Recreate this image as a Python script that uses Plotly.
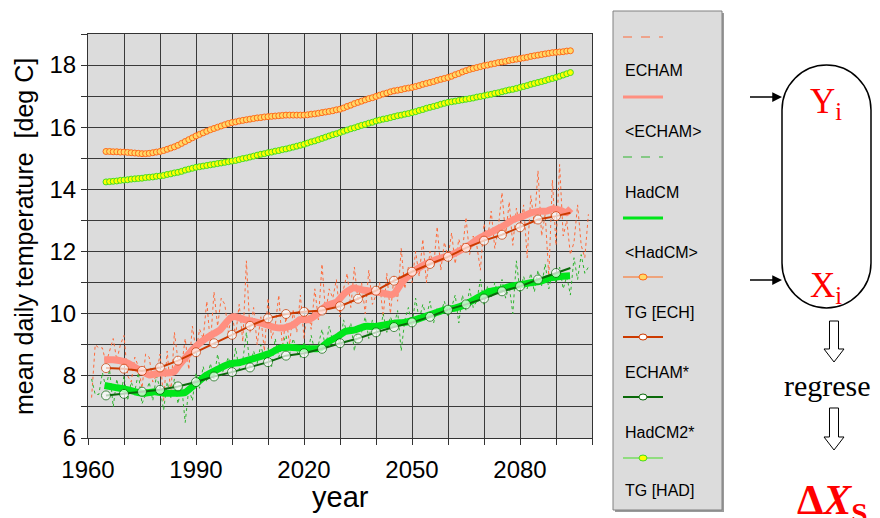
import plotly.graph_objects as go

# ---------------- data ----------------
years_annual = list(range(1961, 2100))
echam_annual = [7.3, 9.0, 8.9, 8.9, 8.4, 8.8, 9.2, 8.5, 9.0,
                9.3, 8.0, 7.8, 8.6, 8.3, 7.6, 8.7, 8.6, 7.8, 8.0,
                8.7, 7.2, 8.8, 7.4, 9.4, 8.5, 8.3, 9.2, 8.2, 9.6,
                8.8, 9.5, 9.2, 10.4, 9.0, 10.7, 9.6, 10.5, 10.3, 9.4,
                10.0, 9.3, 10.3, 9.1, 11.7, 9.4, 10.2, 9.0, 9.9, 8.8,
                10.5, 9.2, 9.6, 10.6, 8.9, 9.9, 9.0, 10.1, 9.4, 10.6,
                9.2, 10.2, 9.5, 10.8, 9.8, 11.6, 10.0, 10.8, 10.5, 11.1,
                9.9, 10.8, 11.3, 10.2, 11.5, 10.4, 11.0, 10.0, 11.4, 10.3,
                10.6, 11.0, 9.9, 11.3, 10.0, 11.2, 10.4, 12.1, 10.8, 11.5,
                11.0, 12.0, 11.2, 12.4, 11.0, 12.0, 11.5, 12.8, 11.4, 12.3,
                11.8, 12.6, 11.6, 12.4, 12.0, 13.1, 11.9, 12.5, 12.2, 11.4,
                12.9, 12.4, 13.3, 12.1, 12.8, 13.9, 12.5, 13.6, 12.2, 13.4,
                12.7, 13.5, 11.8, 13.8, 12.9, 14.6, 12.5, 13.2, 11.2, 14.3,
                12.2, 14.8, 12.5, 13.0, 11.9, 12.3, 13.5, 12.2, 11.8, 13.2]
hadcm_annual = [7.9, 7.4, 7.4, 8.1, 7.6, 8.2, 7.0, 7.9, 7.3,
                8.0, 7.2, 7.8, 7.5, 8.1, 7.1, 7.4, 7.8, 7.2, 8.0,
                7.6, 6.9, 7.8, 7.3, 7.9, 7.1, 7.7, 6.5, 7.6, 7.2,
                8.1, 7.6, 8.3, 7.8, 8.4, 7.9, 8.7, 8.0, 8.3, 8.6,
                8.1, 8.9, 8.2, 8.5, 9.4, 8.3, 8.8, 8.4, 9.0, 8.5,
                8.9, 8.3, 9.2, 8.6, 9.0, 9.3, 8.7, 9.2, 8.8, 8.6,
                9.1, 8.7, 9.3, 8.8, 9.0, 9.5, 8.9, 9.6, 9.1, 9.4,
                9.0, 9.8, 9.3, 9.7, 8.8, 9.6, 9.4, 9.9, 9.2, 9.8,
                9.5, 9.3, 10.0, 9.4, 9.9, 9.6, 10.1, 8.8, 9.8, 10.2,
                9.6, 10.5, 9.8, 10.3, 9.9, 10.4, 9.7, 10.2, 10.0, 10.4,
                9.9, 10.2, 10.6, 9.7, 10.6, 10.1, 10.8, 10.2, 10.4, 11.1,
                10.3, 10.9, 10.5, 11.0, 10.6, 11.1, 10.5, 10.9, 10.0, 11.7,
                10.7, 11.2, 10.8, 11.3, 10.7, 11.4, 10.9, 11.6, 10.8, 11.3,
                11.0, 11.5, 10.8, 11.2, 10.6, 11.8, 11.1, 11.9, 11.3, 11.5]

echam_smooth_years = [1964.5, 1967, 1970, 1972, 1975, 1977, 1980, 1982, 1984, 1985, 1987, 1989,
                      1991, 1993, 1995, 1996.7, 1999.5, 2000.8, 2003.2, 2005.9, 2008.7, 2011.5,
                      2014.3, 2017, 2018.9, 2021.2, 2023.5, 2026.3, 2029.1, 2031.4, 2033.7, 2036,
                      2038.8, 2041.6, 2044.3, 2045.3, 2047.1, 2049.9, 2052.7, 2055.5, 2058.2, 2061,
                      2064.7, 2068.9, 2072.6, 2075.3, 2078.1, 2080.9, 2083.2, 2085.5, 2087.4,
                      2089.2, 2091.1, 2092.9, 2094.1]
echam_smooth = [8.52, 8.52, 8.46, 8.35, 8.14, 8.03, 8.09, 8.09, 8.14, 8.30, 8.57, 8.84,
                9.05, 9.22, 9.36, 9.48, 9.86, 9.91, 9.82, 9.75, 9.68, 9.57,
                9.54, 9.64, 9.81, 9.81, 9.97, 10.26, 10.38, 10.67, 10.83, 10.77,
                10.72, 10.67, 10.61, 10.67, 10.99, 11.31, 11.53, 11.69, 11.80, 11.90,
                12.12, 12.44, 12.66, 12.82, 13.03, 13.14, 13.25, 13.30, 13.30,
                13.38, 13.33, 13.25, 13.38]

hadcm_smooth_years = [1964.6, 1967.4, 1970, 1973, 1975.7, 1978.5, 1981.3, 1984.1, 1986.9, 1989.6,
                      1992.4, 1994.5, 1996.7, 1999.5, 2002.2, 2005, 2007.8, 2010.6, 2013.3, 2016.1,
                      2018.9, 2021.7, 2024.5, 2026.8, 2029.5, 2031.4, 2034.2, 2036.9, 2039.7, 2042.5,
                      2045.3, 2048, 2050.8, 2053.6, 2056.4, 2059.2, 2061.9, 2064.7, 2068.9, 2071.6,
                      2074.4, 2077.2, 2080, 2082.7, 2085.5, 2088.3, 2091.1, 2093.9]
hadcm_smooth = [7.69, 7.63, 7.58, 7.49, 7.44, 7.49, 7.44, 7.44, 7.46, 7.71,
                7.98, 8.12, 8.25, 8.39, 8.43, 8.52, 8.62, 8.73, 8.89, 8.92,
                8.89, 8.87, 8.89, 9.10, 9.27, 9.43, 9.48, 9.59, 9.59, 9.64,
                9.70, 9.72, 9.80, 9.91, 10.02, 10.13, 10.18, 10.29, 10.56, 10.72,
                10.77, 10.88, 10.93, 10.99, 11.04, 11.15, 11.20, 11.22]

years_tg = list(range(1965, 2095))
tg_ech = [15.22, 15.22, 15.21, 15.21, 15.20, 15.20, 15.19, 15.18, 15.17, 15.16,
          15.15, 15.15, 15.16, 15.18, 15.20, 15.22, 15.25, 15.29, 15.33, 15.37,
          15.42, 15.48, 15.54, 15.60, 15.66, 15.72, 15.77, 15.82, 15.87, 15.92,
          15.96, 16.00, 16.04, 16.08, 16.12, 16.15, 16.17, 16.20, 16.22, 16.24,
          16.26, 16.28, 16.30, 16.31, 16.33, 16.34, 16.35, 16.36, 16.37, 16.38,
          16.39, 16.39, 16.39, 16.39, 16.39, 16.39, 16.40, 16.42, 16.43, 16.45,
          16.47, 16.49, 16.51, 16.53, 16.56, 16.58, 16.62, 16.67, 16.71, 16.76,
          16.80, 16.84, 16.88, 16.92, 16.95, 16.99, 17.03, 17.07, 17.10, 17.14,
          17.17, 17.19, 17.21, 17.24, 17.26, 17.28, 17.31, 17.34, 17.38, 17.41,
          17.44, 17.47, 17.51, 17.54, 17.57, 17.60, 17.64, 17.69, 17.73, 17.78,
          17.82, 17.86, 17.89, 17.92, 17.95, 17.98, 18.00, 18.03, 18.05, 18.08,
          18.10, 18.12, 18.15, 18.17, 18.19, 18.21, 18.23, 18.25, 18.28, 18.30,
          18.32, 18.34, 18.36, 18.38, 18.40, 18.41, 18.42, 18.43, 18.45, 18.46]
tg_had = [14.24, 14.25, 14.26, 14.27, 14.29, 14.30, 14.31, 14.33, 14.34, 14.35,
          14.36, 14.38, 14.39, 14.40, 14.42, 14.43, 14.45, 14.48, 14.50, 14.53,
          14.55, 14.58, 14.62, 14.65, 14.68, 14.71, 14.73, 14.75, 14.77, 14.79,
          14.81, 14.83, 14.85, 14.87, 14.89, 14.91, 14.93, 14.96, 14.99, 15.01,
          15.04, 15.07, 15.10, 15.13, 15.15, 15.18, 15.20, 15.23, 15.25, 15.28,
          15.30, 15.33, 15.36, 15.39, 15.42, 15.45, 15.49, 15.53, 15.56, 15.60,
          15.64, 15.68, 15.72, 15.76, 15.79, 15.83, 15.87, 15.91, 15.95, 15.98,
          16.02, 16.06, 16.09, 16.13, 16.16, 16.20, 16.23, 16.26, 16.28, 16.31,
          16.34, 16.37, 16.39, 16.42, 16.44, 16.47, 16.50, 16.54, 16.57, 16.61,
          16.64, 16.67, 16.70, 16.74, 16.77, 16.80, 16.82, 16.84, 16.86, 16.88,
          16.90, 16.92, 16.94, 16.97, 16.99, 17.01, 17.04, 17.06, 17.09, 17.11,
          17.14, 17.17, 17.20, 17.22, 17.25, 17.28, 17.31, 17.34, 17.38, 17.41,
          17.44, 17.47, 17.50, 17.54, 17.57, 17.60, 17.64, 17.68, 17.72, 17.76]

years_star = [1965, 1970, 1975, 1980, 1985, 1990, 1995, 2000, 2005, 2010, 2015, 2020, 2025,
              2030, 2035, 2040, 2045, 2050, 2055, 2060, 2065, 2070, 2075, 2080, 2085, 2090, 2094]
echam_star = [8.25, 8.23, 8.16, 8.27, 8.49, 8.76, 9.05, 9.32, 9.61, 9.85, 9.99, 10.06, 10.10,
              10.24, 10.48, 10.74, 11.06, 11.35, 11.60, 11.83, 12.12, 12.35, 12.54, 12.78, 13.03,
              13.14, 13.25]
hadcm2_star = [7.37, 7.42, 7.49, 7.55, 7.66, 7.80, 7.98, 8.12, 8.27, 8.44, 8.65, 8.73, 8.87,
               9.05, 9.20, 9.40, 9.57, 9.72, 9.90, 10.13, 10.30, 10.49, 10.72, 10.88, 11.10,
               11.31, 11.47]

legend_labels = ["ECHAM", "<ECHAM>", "HadCM", "<HadCM>", "TG [ECH]", "ECHAM*", "HadCM2*", "TG [HAD]"]

x_tick_vals = [1960, 1990, 2020, 2050, 2080]
y_tick_vals = [6, 8, 10, 12, 14, 16, 18]

# ---------------- styles ----------------
C_ECH_DASH = "#ff6a3a"
C_ECH_SMOOTH = "#ff8f80"
C_HAD_DASH = "#2fb52f"
C_HAD_SMOOTH = "#00e61a"
C_TGE_LINE = "#ff6a1a"
C_TGE_FILL = "#ffd966"
C_ECH_STAR = "#cc3a00"
C_HAD_STAR = "#0a6a0a"
C_TGH_LINE = "#44dd22"
C_TGH_FILL = "#ffff00"

FONT = "Liberation Sans, Arial, sans-serif"
SERIF = "Liberation Serif, Times New Roman, serif"

W, H = 880, 518
PAGE_OFF = 8                     # page body margin of the html page
L, R, T, B = 88, 592, 34, 438    # plot area as seen on screen


def px(x):
    return (x - L) / (R - L)


def py(y):
    return (B - y) / (B - T)


fig = go.Figure()

fig.add_trace(go.Scatter(x=years_annual, y=echam_annual, mode="lines",
                         line=dict(color=C_ECH_DASH, width=1, dash="3px,3px"), showlegend=False))
fig.add_trace(go.Scatter(x=years_annual, y=hadcm_annual, mode="lines",
                         line=dict(color=C_HAD_DASH, width=1, dash="3px,3px"), showlegend=False))
fig.add_trace(go.Scatter(x=echam_smooth_years, y=echam_smooth, mode="lines",
                         line=dict(color=C_ECH_SMOOTH, width=7, shape="spline", smoothing=0.4),
                         showlegend=False))
fig.add_trace(go.Scatter(x=hadcm_smooth_years, y=hadcm_smooth, mode="lines",
                         line=dict(color=C_HAD_SMOOTH, width=7, shape="spline", smoothing=0.4),
                         showlegend=False))
fig.add_trace(go.Scatter(x=years_tg, y=tg_ech, mode="lines+markers",
                         line=dict(color=C_TGE_LINE, width=1),
                         marker=dict(size=6, color=C_TGE_FILL, line=dict(color=C_TGE_LINE, width=1)),
                         showlegend=False))
fig.add_trace(go.Scatter(x=years_tg, y=tg_had, mode="lines+markers",
                         line=dict(color=C_TGH_LINE, width=1),
                         marker=dict(size=6, color=C_TGH_FILL, line=dict(color=C_TGH_LINE, width=1)),
                         showlegend=False))
star_sizes = [9] * (len(years_star) - 1) + [0]
fig.add_trace(go.Scatter(x=years_star, y=echam_star, mode="lines+markers",
                         line=dict(color=C_ECH_STAR, width=2),
                         marker=dict(size=star_sizes, color="white", line=dict(color=C_ECH_STAR, width=1)),
                         showlegend=False))
fig.add_trace(go.Scatter(x=years_star, y=hadcm2_star, mode="lines+markers",
                         line=dict(color=C_HAD_STAR, width=2),
                         marker=dict(size=star_sizes, color="white", line=dict(color=C_HAD_STAR, width=1)),
                         showlegend=False))

shapes = []
annotations = []

# ---- legend box ----
shapes.append(dict(type="rect", xref="paper", yref="paper", x0=px(615), x1=px(724), y0=py(512), y1=py(13),
                   fillcolor="#9a9a9a", line=dict(width=0), layer="below"))
shapes.append(dict(type="rect", xref="paper", yref="paper", x0=px(613), x1=px(722), y0=py(510), y1=py(11),
                   fillcolor="#dcdcdc", line=dict(color="#808080", width=1), layer="below"))

sample_y = [37, 97, 157, 218, 277, 337, 397, 458]
label_y = [71, 131, 192, 252, 312, 372, 432, 491]
samples = [
    dict(color=C_ECH_DASH, width=1, dash="dash", marker=None),
    dict(color=C_ECH_SMOOTH, width=3, dash="solid", marker=None),
    dict(color=C_HAD_DASH, width=1, dash="dash", marker=None),
    dict(color=C_HAD_SMOOTH, width=3, dash="solid", marker=None),
    dict(color=C_TGE_LINE, width=1, dash="solid", marker=(C_TGE_FILL, C_TGE_LINE)),
    dict(color=C_ECH_STAR, width=2, dash="solid", marker=("white", C_ECH_STAR)),
    dict(color=C_HAD_STAR, width=2, dash="solid", marker=("white", C_HAD_STAR)),
    dict(color=C_TGH_LINE, width=1, dash="solid", marker=(C_TGH_FILL, C_TGH_LINE)),
]
for sy, s in zip(sample_y, samples):
    shapes.append(dict(type="line", xref="paper", yref="paper", x0=px(623), x1=px(663), y0=py(sy), y1=py(sy),
                       line=dict(color=s["color"], width=s["width"], dash=s["dash"])))
    if s["marker"]:
        fill, edge = s["marker"]
        shapes.append(dict(type="circle", xref="paper", yref="paper", x0=px(639), x1=px(647),
                           y0=py(sy + 3), y1=py(sy - 3), fillcolor=fill, line=dict(color=edge, width=1)))
for ly, lab in zip(label_y, legend_labels):
    annotations.append(dict(x=px(623), y=py(ly), xref="paper", yref="paper",
                            text=lab.replace("<", "&lt;").replace(">", "&gt;"),
                            showarrow=False, xanchor="left", yanchor="middle",
                            font=dict(family=FONT, size=16, color="black")))

# ---- axis titles ----
annotations.append(dict(x=px(24), y=py(237), xref="paper", yref="paper", showarrow=False,
                        text="mean daily temperature&nbsp; [deg C]", textangle=-90,
                        font=dict(family=FONT, size=25, color="black"),
                        xanchor="center", yanchor="middle"))
annotations.append(dict(x=px(340), y=py(497), xref="paper", yref="paper", showarrow=False,
                        text="year", font=dict(family=FONT, size=29, color="black"),
                        xanchor="center", yanchor="middle"))

# ---- right diagram: capsule ----
cl, cr, ct, cb, rad = 782, 871, 65, 308, 45
k = 0.5523


def P(x, y):
    return f"{px(x):.5f},{py(y):.5f}"


cx = (cl + cr) / 2
rx = (cr - cl) / 2
path = (f"M {P(cl, ct + rad)} "
        f"C {P(cl, ct + rad - k * rad)} {P(cx - k * rx, ct)} {P(cx, ct)} "
        f"C {P(cx + k * rx, ct)} {P(cr, ct + rad - k * rad)} {P(cr, ct + rad)} "
        f"L {P(cr, cb - rad)} "
        f"C {P(cr, cb - rad + k * rad)} {P(cx + k * rx, cb)} {P(cx, cb)} "
        f"C {P(cx - k * rx, cb)} {P(cl, cb - rad + k * rad)} {P(cl, cb - rad)} Z")
shapes.append(dict(type="path", xref="paper", yref="paper", path=path,
                   line=dict(color="black", width=1.5), fillcolor="rgba(0,0,0,0)"))

# input arrows
for ay in [97, 280]:
    annotations.append(dict(x=px(782), y=py(ay), xref="paper", yref="paper", ax=-35, ay=0,
                            axref="pixel", ayref="pixel", text=" ", showarrow=True,
                            arrowhead=2, arrowsize=1.3, arrowwidth=1.5, arrowcolor="black",
                            font=dict(size=10)))


# hollow down arrows
def down_arrow(xc, y0, y1):
    sw, hw, hh = 4.5, 10, 13
    pts = [(xc - sw, y0), (xc + sw, y0), (xc + sw, y1 - hh), (xc + hw, y1 - hh), (xc, y1),
           (xc - hw, y1 - hh), (xc - sw, y1 - hh)]
    d = "M " + " L ".join(P(a, b) for a, b in pts) + " Z"
    return dict(type="path", xref="paper", yref="paper", path=d,
                line=dict(color="black", width=1), fillcolor="white")


shapes.append(down_arrow(834, 321, 362))
shapes.append(down_arrow(834, 408, 450))

annotations.append(dict(x=px(826), y=py(103), xref="paper", yref="paper", showarrow=False,
                        text="Y<sub>i</sub>", font=dict(family=SERIF, size=35, color="#ff0000"),
                        xanchor="center", yanchor="middle"))
annotations.append(dict(x=px(826), y=py(287), xref="paper", yref="paper", showarrow=False,
                        text="X<sub>i</sub>", font=dict(family=SERIF, size=35, color="#ff0000"),
                        xanchor="center", yanchor="middle"))
annotations.append(dict(x=px(827), y=py(385), xref="paper", yref="paper", showarrow=False,
                        text="regrese", font=dict(family=SERIF, size=30, color="black"),
                        xanchor="center", yanchor="middle"))
annotations.append(dict(x=px(832), y=py(503), xref="paper", yref="paper", showarrow=False,
                        text="<b>Δ<i>X</i><sub>S</sub></b>", font=dict(family=SERIF, size=42, color="#ff0000"),
                        xanchor="center", yanchor="middle"))

fig.update_layout(
    width=W, height=H,
    margin=dict(l=L - PAGE_OFF, r=W - R + PAGE_OFF, t=T - PAGE_OFF, b=H - B + PAGE_OFF, autoexpand=False),
    paper_bgcolor="white", plot_bgcolor="#dcdcdc",
    shapes=shapes, annotations=annotations,
    showlegend=False,
    font=dict(family=FONT, color="black"),
)
fig.update_xaxes(range=[1960, 2100], tickvals=x_tick_vals, ticktext=[str(v) for v in x_tick_vals],
                 showgrid=True, gridcolor="#3a3a3a", gridwidth=1,
                 ticks="outside", ticklen=6, tickcolor="#333", tickfont=dict(size=24, family=FONT),
                 ticklabelstandoff=4,
                 minor=dict(dtick=10, tick0=1960, showgrid=True, gridcolor="#3a3a3a", gridwidth=1,
                            ticks="outside", ticklen=6, tickcolor="#333"),
                 showline=True, linecolor="#333", linewidth=1, mirror=True, zeroline=False)
fig.update_yaxes(range=[6, 19], tickvals=y_tick_vals, ticktext=[str(v) for v in y_tick_vals],
                 showgrid=True, gridcolor="#3a3a3a", gridwidth=1,
                 ticks="outside", ticklen=6, tickcolor="#333", tickfont=dict(size=24, family=FONT),
                 minor=dict(dtick=1, tick0=6, showgrid=True, gridcolor="#3a3a3a", gridwidth=1,
                            ticks="outside", ticklen=6, tickcolor="#333"),
                 showline=True, linecolor="#333", linewidth=1, mirror=True, zeroline=False)

fig.write_html("out.html")
